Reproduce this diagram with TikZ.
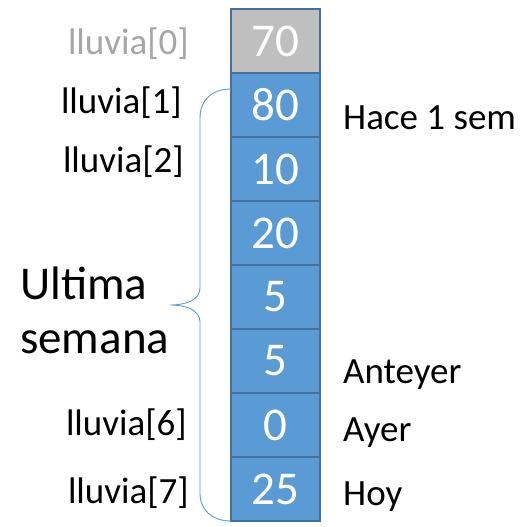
\documentclass[tikz,border=0pt]{standalone}
\usepackage{fontspec}
\setmainfont{Carlito}
\usetikzlibrary{positioning}

\definecolor{cellblue}{HTML}{5B9BD5}
\definecolor{cellline}{HTML}{41719C}
\definecolor{cellgray}{HTML}{BFBFBF}
\definecolor{labelgray}{HTML}{A6A6A6}

\tikzset{
    cell/.style={draw=cellline, line width=2pt, fill=cellblue, text=white,
        minimum width=89pt, minimum height=64pt, inner sep=0pt,
        font=\fontsize{47}{47}\selectfont},
    oldcell/.style={cell, fill=cellgray},
    idx/.style={inner sep=0pt, font=\fontsize{37}{37}\selectfont},
    note/.style={inner sep=0pt, anchor=west, font=\fontsize{37}{37}\selectfont},
    brace/.style={draw=cellblue, line width=0.9pt}
}

\begin{document}
\begin{tikzpicture}[x=1pt, y=-1pt]
    \useasboundingbox (0,0) rectangle (526,527);

    % cells
    \node[oldcell] (c0) at (275.5, 41) {70};
    \foreach \i/\v in {1/80, 2/10, 3/20, 4/5, 5/5, 6/0, 7/25}
        \node[cell] (c\i) at (275.5, 41+64*\i) {\v};

    % indices
    \node[idx, text=labelgray, left=41pt of c0, yshift=-3pt] (i0) {lluvia[0]};
    \node[idx, left=48pt of c1, yshift=2pt] (i1) {lluvia[1]};
    \node[idx, left=46pt of c2, yshift=7pt] (i2) {lluvia[2]};
    \node[idx, left=43pt of c6] (i6) {lluvia[6]};
    \node[idx, left=41pt of c7, yshift=-4pt] (i7) {lluvia[7]};

    % notes
    \node[note] (n1) at ([xshift=22pt, yshift=-13pt]c1.east) {Hace 1 sem};
    \node[note] (n5) at ([xshift=22pt, yshift=-14pt]c5.east) {Anteyer};
    \node[note] (n6) at ([xshift=22pt, yshift=-8pt]c6.east) {Ayer};
    \node[note] (n7) at ([xshift=22pt, yshift=-8pt]c7.east) {Hoy};

    % brace
    \coordinate (btop) at (231, 89);
    \coordinate (bbot) at (231, 521);
    \coordinate (tip) at (170, 305);
    \draw[brace] (btop) .. controls (212, 89) and (200, 100) .. (200, 118)
        -- (200, 288) .. controls (200, 300) and (186, 305) .. (tip)
        .. controls (186, 305) and (200, 310) .. (200, 322)
        -- (200, 493) .. controls (200, 510) and (212, 521) .. (bbot);

    \node[inner sep=0pt, align=left, anchor=west, font=\fontsize{47}{54}\selectfont]
        (week) at (20, 310) {Ultima\\semana};
\end{tikzpicture}
\end{document}
